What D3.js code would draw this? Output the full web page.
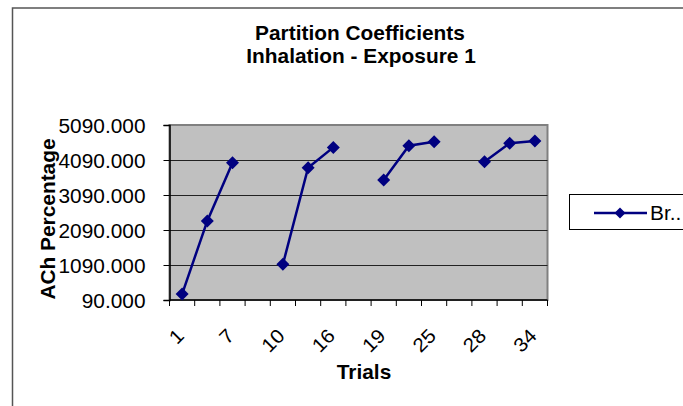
<!DOCTYPE html>
<html>
<head>
<meta charset="utf-8">
<script src="https://cdn.jsdelivr.net/npm/d3@7"></script>
<style>
body { margin: 0; background: #fff; }
text { font-family: Arial, "Liberation Sans", sans-serif; fill: #000; }
</style>
</head>
<body>
<script>
//data ("" = empty category, null = no value)
var trials = ["1", "4", "7", "", "10", "13", "16", "", "19", "22", "25", "", "28", "31", "34"];
var brain = [260, 2350, 4010, null, 1110, 3870, 4450, null, 3520, 4500, 4610, null, 4040, 4570, 4630];
var yTicks = [90, 1090, 2090, 3090, 4090, 5090];
var shownLabels = [0, 2, 4, 6, 8, 10, 12, 14];
var seriesName = "Br..";

//Width and height
var width = 683;
var height = 406;
var plot = {left: 169.5, right: 547.5, top: 125, bottom: 300};
var fontSize = 19.5;
var stretch = 1.07; //the original text is drawn a little wider than normal

var svg = d3.select("body")
	.append("svg")
	.attr("width", width)
	.attr("height", height);

//place a text at (px, py), turned by rot degrees and widened along its baseline
function place(px, py, rot) {
	return "translate(" + px + "," + py + ") rotate(" + (rot || 0) + ") scale(" + stretch + ",1)";
}

//chart border (only top and left visible)
svg.append("path")
	.attr("d", "M12.5," + height + "V8H" + width)
	.attr("fill", "none")
	.attr("stroke", "#555")
	.attr("stroke-width", 1.5);

var x = d3.scaleBand()
	.domain(d3.range(trials.length))
	.range([plot.left, plot.right]);

var y = d3.scaleLinear()
	.domain([90, 5090])
	.range([plot.bottom, plot.top]);

//plot area
svg.append("rect")
	.attr("x", plot.left)
	.attr("y", plot.top)
	.attr("width", plot.right - plot.left)
	.attr("height", plot.bottom - plot.top)
	.attr("fill", "#c0c0c0")
	.attr("stroke", "#808080")
	.attr("stroke-width", 2);

//gridlines
svg.selectAll(".grid")
	.data(yTicks.slice(1, -1))
	.enter()
	.append("line")
	.attr("x1", plot.left)
	.attr("x2", plot.right)
	.attr("y1", function (d) { return Math.round(y(d)) + 0.5; })
	.attr("y2", function (d) { return Math.round(y(d)) + 0.5; })
	.attr("stroke", "#222")
	.attr("stroke-width", 1);

//y axis
var yAxis = svg.append("g")
	.attr("transform", "translate(" + plot.left + ",0)")
	.call(d3.axisLeft(y).tickValues(yTicks).tickSize(6).tickFormat(d3.format(".3f")));
yAxis.select(".domain").attr("stroke", "#000").attr("stroke-width", 1.5);
yAxis.selectAll(".tick line").attr("stroke", "#000");
yAxis.selectAll(".tick text")
	.attr("font-size", fontSize)
	.attr("font-family", "Arial, 'Liberation Sans', sans-serif")
	.attr("x", 0)
	.attr("dy", "0.37em")
	.attr("transform", place(-24, 0));

//x axis: ticks between categories
var xAxis = svg.append("g")
	.attr("transform", "translate(0," + plot.bottom + ")");
xAxis.append("line")
	.attr("x1", plot.left)
	.attr("x2", plot.right)
	.attr("stroke", "#000")
	.attr("stroke-width", 1.5);
xAxis.selectAll(".xtick")
	.data(d3.range(trials.length + 1))
	.enter()
	.append("line")
	.attr("x1", function (i) { return plot.left + i * x.bandwidth(); })
	.attr("x2", function (i) { return plot.left + i * x.bandwidth(); })
	.attr("y1", 0)
	.attr("y2", 6)
	.attr("stroke", "#000");

//rotated category labels, every other one
svg.selectAll(".xlabel")
	.data(shownLabels)
	.enter()
	.append("text")
	.attr("text-anchor", "end")
	.attr("font-size", fontSize)
	.attr("transform", function (i) {
		return place(x(i) + x.bandwidth() / 2 + 3, 337, -45);
	})
	.text(function (i) { return trials[i]; });

//series line with gaps
var line = d3.line()
	.defined(function (d) { return d !== null; })
	.x(function (d, i) { return x(i) + x.bandwidth() / 2; })
	.y(function (d) { return y(d); });

svg.append("path")
	.datum(brain)
	.attr("d", line)
	.attr("fill", "none")
	.attr("stroke", "#000080")
	.attr("stroke-width", 2.5);

function diamond(r) {
	return "M0," + (-r) + "L" + r + ",0L0," + r + "L" + (-r) + ",0Z";
}

svg.selectAll(".marker")
	.data(brain.map(function (v, i) { return {v: v, i: i}; }).filter(function (d) { return d.v !== null; }))
	.enter()
	.append("path")
	.attr("d", diamond(6.5))
	.attr("transform", function (d) {
		return "translate(" + (x(d.i) + x.bandwidth() / 2) + "," + y(d.v) + ")";
	})
	.attr("fill", "#000080");

//titles
svg.append("text")
	.attr("transform", place(360, 40))
	.attr("text-anchor", "middle")
	.attr("font-size", fontSize)
	.attr("font-weight", "bold")
	.text("Partition Coefficients");

svg.append("text")
	.attr("transform", place(361, 63))
	.attr("text-anchor", "middle")
	.attr("font-size", fontSize)
	.attr("font-weight", "bold")
	.text("Inhalation - Exposure 1");

svg.append("text")
	.attr("transform", place(364, 379))
	.attr("text-anchor", "middle")
	.attr("font-size", fontSize)
	.attr("font-weight", "bold")
	.text("Trials");

svg.append("text")
	.attr("transform", place(55, 219, -90))
	.attr("text-anchor", "middle")
	.attr("font-size", fontSize)
	.attr("font-weight", "bold")
	.text("ACh Percentage");

//legend (cut off at the right edge like the original)
var legend = svg.append("g");
legend.append("rect")
	.attr("x", 569.5)
	.attr("y", 194.5)
	.attr("width", 130)
	.attr("height", 35)
	.attr("fill", "#fff")
	.attr("stroke", "#000");
legend.append("line")
	.attr("x1", 594)
	.attr("x2", 647)
	.attr("y1", 213)
	.attr("y2", 213)
	.attr("stroke", "#000080")
	.attr("stroke-width", 2.5);
legend.append("path")
	.attr("d", diamond(5.5))
	.attr("transform", "translate(620,213)")
	.attr("fill", "#000080");
legend.append("text")
	.attr("transform", place(650, 220))
	.attr("font-size", fontSize)
	.text(seriesName);
</script>
</body>
</html>
